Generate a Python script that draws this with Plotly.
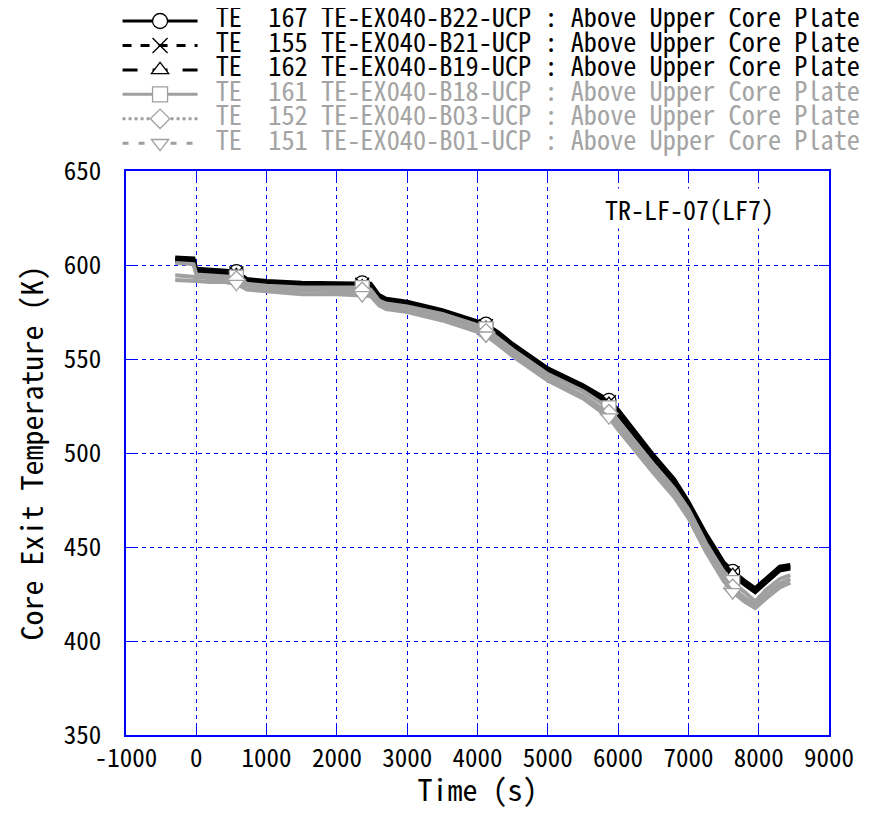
import plotly.graph_objects as go

# ---------------- data ----------------
time_s = [-300, -150, -40, 0, 200, 400, 570, 720, 1000, 1500, 2000, 2360, 2480, 2600, 2700,
          3000, 3500, 4000, 4120, 4300, 4500, 5000, 5500, 5870, 6000, 6500, 6800, 7000,
          7250, 7500, 7630, 7800, 7950, 8100, 8300, 8450]

te167 = [604, 604, 603.5, 598, 597.5, 597, 596.5, 592.5, 591.5, 590.5, 590.5, 590.5, 590, 584, 582,
         580.5, 576, 570, 568.5, 564, 558, 545, 536, 528, 523, 499, 486, 474,
         457, 442, 437, 432, 428, 433, 439.5, 440.5]
te155 = [603, 603, 602.5, 597, 596.5, 596, 595.5, 591.5, 590.5, 589.5, 589.5, 589.5, 589, 583, 581,
         579.5, 575, 569, 567.5, 563, 557, 544, 535, 527, 522, 498, 485, 473,
         456, 441, 436, 431, 427, 432, 438.5, 439.5]
te162 = [602, 602, 601.5, 596, 595.5, 595, 594.5, 590.5, 589.5, 588.5, 588.5, 588.5, 588, 582, 580,
         578.5, 574, 568, 566.5, 562, 556, 543, 534, 526, 520.5, 497, 484, 472,
         455, 440, 435, 430, 426, 431, 437.5, 438.5]
te161 = [601, 601, 600.5, 595, 594.5, 594, 593.5, 590, 589, 588, 588, 588, 587, 581, 579.5,
         578, 574, 568, 566, 561, 555, 542, 533, 524, 517, 494, 481, 470,
         452, 437, 431, 426, 421, 427, 433, 435]
te152 = [594.5, 594, 594, 593.5, 593, 593, 592, 589, 587.5, 586.5, 586.5, 586, 585.5, 580, 578,
         576.5, 572, 566, 564, 559, 553, 540, 530.5, 521, 514.5, 491.5, 478.5, 467.5,
         449.5, 434, 428, 423, 419, 424.5, 430.5, 433]
te151 = [592, 591.5, 591.5, 591.5, 591, 591, 590, 587, 586, 584.5, 584.5, 584, 583.5, 578.5, 576.5,
         575, 570.5, 564.5, 562.5, 557.5, 551.5, 538.5, 529, 519, 512.5, 489.5, 476.5, 465.5,
         447.5, 432, 426, 421, 417.5, 422.5, 428.5, 431]

marker_idx = [6, 11, 18, 23, 30]   # indices of time_s carrying a symbol

series_names = [
    "TE\u00a0\u00a0167\u00a0TE-EX040-B22-UCP\u00a0:\u00a0Above\u00a0Upper\u00a0Core\u00a0Plate",
    "TE\u00a0\u00a0155\u00a0TE-EX040-B21-UCP\u00a0:\u00a0Above\u00a0Upper\u00a0Core\u00a0Plate",
    "TE\u00a0\u00a0162\u00a0TE-EX040-B19-UCP\u00a0:\u00a0Above\u00a0Upper\u00a0Core\u00a0Plate",
    "TE\u00a0\u00a0161\u00a0TE-EX040-B18-UCP\u00a0:\u00a0Above\u00a0Upper\u00a0Core\u00a0Plate",
    "TE\u00a0\u00a0152\u00a0TE-EX040-B03-UCP\u00a0:\u00a0Above\u00a0Upper\u00a0Core\u00a0Plate",
    "TE\u00a0\u00a0151\u00a0TE-EX040-B01-UCP\u00a0:\u00a0Above\u00a0Upper\u00a0Core\u00a0Plate",
]
series_values = [te167, te155, te162, te161, te152, te151]

x_ticks = [-1000, 0, 1000, 2000, 3000, 4000, 5000, 6000, 7000, 8000, 9000]
y_ticks = [350, 400, 450, 500, 550, 600, 650]

# ---------------- styles ----------------
BLACK = "#000000"
GRAY = "#a0a0a0"
colors = [BLACK, BLACK, BLACK, GRAY, GRAY, GRAY]
text_colors = ["#000000", "#000000", "#000000", "#a4a4a4", "#a4a4a4", "#a4a4a4"]
dashes = ["solid", "dash", "longdash", "solid", "dot", "6px,10px"]
symbols = ["circle", "x-thin", "triangle-up", "square", "diamond", "triangle-down"]

MONO = "Noto Sans Mono CJK JP, Liberation Mono, monospace"
BLUE = "#0000ff"

fig = go.Figure()

# data lines and their symbols, drawn series by series
for vals, col, sym in zip(series_values, colors, symbols):
    fig.add_trace(go.Scatter(x=time_s, y=vals, mode="lines",
                             line=dict(color=col, width=4),
                             showlegend=False, hoverinfo="skip"))
    fig.add_trace(go.Scatter(x=[time_s[i] for i in marker_idx],
                             y=[vals[i] for i in marker_idx],
                             mode="markers",
                             marker=dict(symbol=sym, size=14, color="white",
                                         line=dict(color=col, width=1.3)),
                             showlegend=False, hoverinfo="skip"))

# legend entries
for name, col, tcol, dash, sym in zip(series_names, colors, text_colors, dashes, symbols):
    fig.add_trace(go.Scatter(x=[None], y=[None], mode="lines+markers",
                             name=f"<span style='font-size:26.3px;color:{tcol}'>\u00a0{name}</span>",
                             line=dict(color=col, width=3, dash=dash),
                             marker=dict(symbol=sym, size=15, color="white",
                                         line=dict(color=col, width=1.3))))

fig.add_annotation(x=0.802, y=0.934, xref="paper", yref="paper",
                   xanchor="center", yanchor="middle",
                   text="TR-LF-07(LF7)", showarrow=False,
                   font=dict(family=MONO, size=26, color="black"),
                   bgcolor="white")

axis_common = dict(showline=True, linecolor=BLUE, linewidth=1.5, mirror="ticks",
                   ticks="inside", ticklen=10, tickcolor=BLUE, tickwidth=1,
                   showgrid=True, gridcolor=BLUE, gridwidth=1,
                   griddash="4px,4px", zeroline=False, automargin=False,
                   tickfont=dict(family=MONO, size=25, color="black"))

fig.update_xaxes(range=[-1000, 9000], tickvals=x_ticks,
                 ticktext=[str(v) for v in x_ticks],
                 title=dict(text="Time (s)", font=dict(family=MONO, size=30, color="black"),
                            standoff=16),
                 ticklabelstandoff=0, **axis_common)
fig.update_yaxes(range=[350, 650], tickvals=y_ticks,
                 ticktext=[str(v) for v in y_ticks],
                 title=dict(text="Core Exit Temperature (K)",
                            font=dict(family=MONO, size=30, color="black"), standoff=16),
                 ticklabelstandoff=18, **axis_common)

# the page body adds an 8 px offset, so the figure is sized to fit without scrollbars
fig.update_layout(
    width=861, height=802,
    margin=dict(l=118, r=40, t=163, b=75, autoexpand=False),
    paper_bgcolor="white", plot_bgcolor="white",
    legend=dict(x=1.052, xanchor="right", y=1.2965, yanchor="top",
                font=dict(family=MONO, size=16.5, color="black"),
                itemwidth=75, bgcolor="rgba(0,0,0,0)", borderwidth=0,
                tracegroupgap=0),
    showlegend=True,
)

fig.write_html("out.html")
